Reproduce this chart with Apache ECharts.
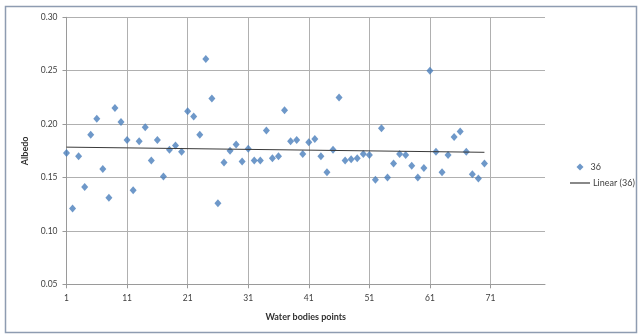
<!DOCTYPE html>
<html>
<head>
<meta charset="utf-8">
<script src="https://cdn.jsdelivr.net/npm/echarts@6/dist/echarts.min.js"></script>
<style>
  html, body { margin: 0; padding: 0; background: #ffffff; }
  #chart { width: 638px; height: 335px; }
</style>
</head>
<body>
<div id="chart"></div>
<script>
// Albedo measured at each water body point (points 1..70)
const albedo = [
  0.173, 0.121, 0.170, 0.141, 0.190, 0.205, 0.158, 0.131, 0.215, 0.202,
  0.185, 0.138, 0.184, 0.197, 0.166, 0.185, 0.151, 0.176, 0.180, 0.174,
  0.212, 0.207, 0.190, 0.261, 0.224, 0.126, 0.164, 0.175, 0.181, 0.165,
  0.177, 0.166, 0.166, 0.194, 0.168, 0.170, 0.213, 0.184, 0.185, 0.172,
  0.183, 0.186, 0.170, 0.155, 0.176, 0.225, 0.166, 0.167, 0.168, 0.172,
  0.171, 0.148, 0.196, 0.150, 0.163, 0.172, 0.171, 0.161, 0.150, 0.159,
  0.250, 0.174, 0.155, 0.171, 0.188, 0.193, 0.174, 0.153, 0.149, 0.163
];

// Category axis runs from point 1 to point 80; labels every 10 points
const axisPointCount = 80;
const xCategories = [];
for (let i = 1; i <= axisPointCount; i++) xCategories.push(String(i));

const yTicks = { min: 0.05, max: 0.30, step: 0.05 };

// Least-squares linear trend over the measured points
function linearTrend(values) {
  const n = values.length;
  let sx = 0, sy = 0, sxx = 0, sxy = 0;
  values.forEach((v, i) => {
    const x = i + 1;
    sx += x; sy += v; sxx += x * x; sxy += x * v;
  });
  const slope = (n * sxy - sx * sy) / (n * sxx - sx * sx);
  const intercept = (sy - slope * sx) / n;
  return [
    [0, intercept + slope * 1],
    [n - 1, intercept + slope * n]
  ];
}

const chart = echarts.init(document.getElementById('chart'), null, { renderer: 'canvas' });
const textColor = '#404040';
const fontFamily = 'Lato, "Open Sans", sans-serif';
const every10 = (i) => i % 10 === 0;
const trendColor = '#3a3a3a';

chart.setOption({
  animation: false,
  backgroundColor: '#ffffff',
  textStyle: { fontFamily: fontFamily },
  grid: { left: 66.5, right: 93, top: 17.3, bottom: 50.7, containLabel: false },
  xAxis: {
    type: 'category',
    data: xCategories,
    boundaryGap: false,
    name: 'Water bodies points',
    nameLocation: 'middle',
    nameGap: 28,
    nameTextStyle: { fontSize: 9, fontWeight: 'bold', color: '#303030', fontFamily: fontFamily },
    axisLine: { lineStyle: { color: '#9a9a9a', width: 1 } },
    axisTick: { show: true, interval: every10, length: 4, lineStyle: { color: '#9a9a9a' } },
    axisLabel: { interval: every10, fontSize: 8.5, color: textColor, margin: 9 },
    splitLine: { show: true, interval: every10, lineStyle: { color: '#b0b0b0', width: 1 } }
  },
  yAxis: {
    type: 'value',
    min: yTicks.min,
    max: yTicks.max,
    interval: yTicks.step,
    name: 'Albedo',
    nameLocation: 'middle',
    nameGap: 34,
    nameRotate: 90,
    nameTextStyle: { fontSize: 9, fontWeight: 'bold', color: '#303030', fontFamily: fontFamily },
    axisLine: { show: true, lineStyle: { color: '#9a9a9a', width: 1 } },
    axisTick: { show: true, length: 4, lineStyle: { color: '#9a9a9a' } },
    axisLabel: { fontSize: 8.5, color: textColor, margin: 9, formatter: (v) => v.toFixed(2) },
    splitLine: { show: true, lineStyle: { color: '#b0b0b0', width: 1 } }
  },
  legend: [
    {
      data: [{ name: '36', icon: 'diamond' }],
      left: 571.5, top: 157.5,
      itemWidth: 7, itemHeight: 7,
      textStyle: { fontSize: 9, color: textColor, padding: [0, 0, 0, 2] }
    },
    {
      data: [{ name: 'Linear (36)', icon: 'rect', itemStyle: { color: trendColor } }],
      left: 565, top: 173.5,
      itemWidth: 20, itemHeight: 1.2,
      textStyle: { fontSize: 9, color: textColor, padding: [0, 0, 0, -2] }
    }
  ],
  graphic: [
    {
      type: 'rect',
      silent: true,
      shape: { x: 5.5, y: 6.5, width: 631, height: 326 },
      style: { fill: 'none', stroke: '#8e9cb1', lineWidth: 1.5 }
    }
  ],
  series: [
    {
      name: '36',
      type: 'scatter',
      symbol: 'diamond',
      symbolSize: [7, 8],
      itemStyle: { color: '#4a7ebb' },
      data: albedo.map((v, i) => [i, v]),
      z: 3
    },
    {
      name: 'Linear (36)',
      type: 'line',
      symbol: 'none',
      showSymbol: false,
      lineStyle: { color: trendColor, width: 1 },
      itemStyle: { color: trendColor },
      data: linearTrend(albedo),
      z: 4
    }
  ]
});
</script>
</body>
</html>
